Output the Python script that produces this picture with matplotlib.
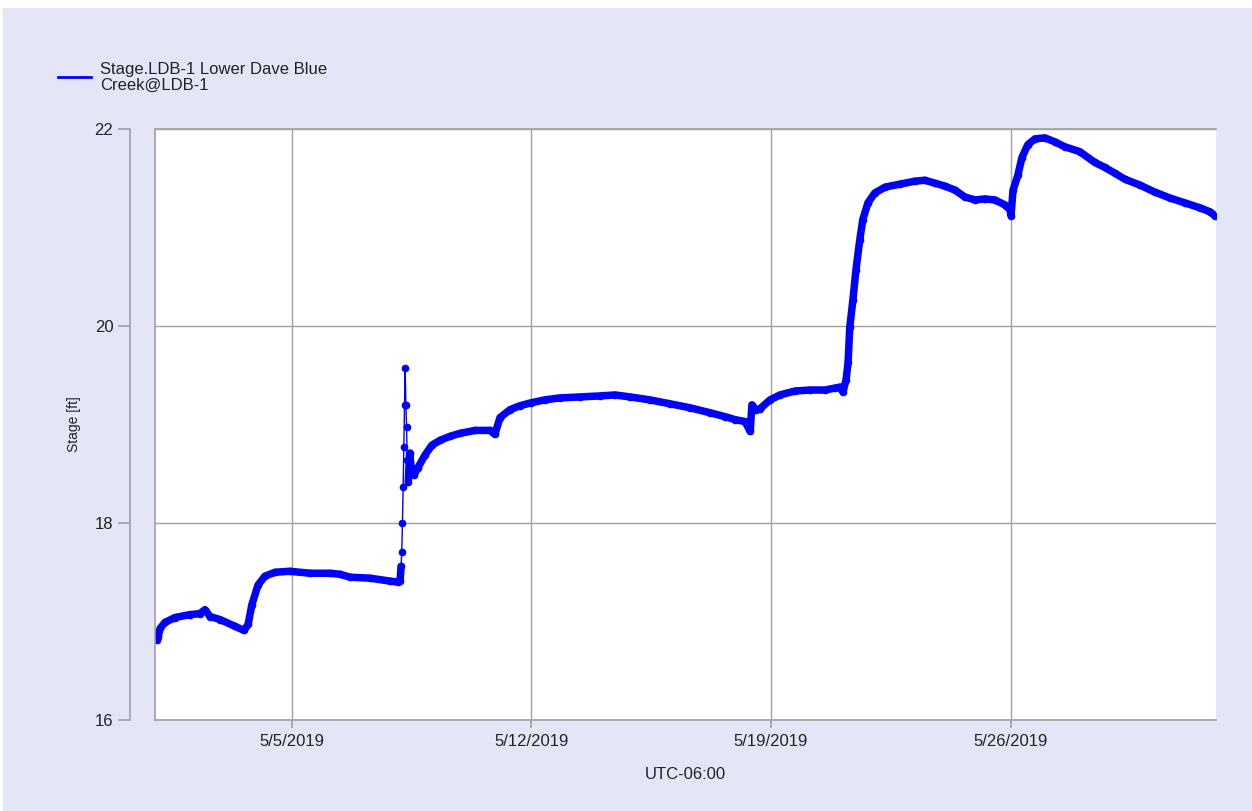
import matplotlib
matplotlib.use("Agg")
import matplotlib.pyplot as plt
import matplotlib.dates as mdates
from matplotlib.lines import Line2D
from matplotlib.patches import Rectangle
import numpy as np
import pandas as pd

# --- data (days after 2019-05-01 00:00, stage in ft) ---
start = "2019-05-01"
day_offset = [
    0.00, 0.05, 0.09, 0.15, 0.29, 0.58, 1.02, 1.31, 1.46, 1.61, 1.90, 2.34, 2.60, 2.72,
    2.83, 3.01, 3.21, 3.51, 3.94, 4.53, 5.11, 5.40, 5.70, 6.28, 6.87, 7.10, 7.16,
    7.19, 7.21, 7.23, 7.25, 7.27, 7.29, 7.31, 7.33, 7.35, 7.37, 7.40, 7.44, 7.50,
    7.57, 7.68, 7.89, 8.09, 8.33, 8.62, 8.91, 9.35, 9.79, 9.93, 10.08, 10.37, 10.66,
    10.98, 11.39, 11.83, 12.42, 13.00, 13.44, 13.88, 14.46, 15.05, 15.63, 16.21,
    16.65, 16.94, 17.24, 17.39, 17.44, 17.55, 17.68, 17.97, 18.26, 18.70, 19.14,
    19.57, 19.87, 20.01, 20.10, 20.19, 20.25, 20.30, 20.39, 20.48, 20.59, 20.68,
    20.83, 21.03, 21.33, 21.76, 22.20, 22.49, 22.79, 23.08, 23.37, 23.66, 23.96,
    24.25, 24.54, 24.83, 24.98, 25.01, 25.07, 25.21, 25.33, 25.50, 25.71, 26.00,
    26.29, 26.58, 27.02, 27.46, 27.75, 28.05, 28.34, 28.78, 29.21, 29.65, 30.09,
    30.53, 30.82, 30.97,
]
stage = [
    16.88, 16.81, 16.84, 16.93, 16.99, 17.04, 17.07, 17.08, 17.12, 17.05, 17.02,
    16.95, 16.91, 16.97, 17.17, 17.37, 17.46, 17.50, 17.51, 17.49, 17.49, 17.48,
    17.45, 17.44, 17.41, 17.40, 17.41,
    17.56, 17.71, 18.00, 18.37, 18.77, 19.20, 19.57, 19.20, 18.97, 18.64, 18.42,
    18.71, 18.52, 18.49, 18.56, 18.69, 18.79, 18.84, 18.88, 18.91, 18.94, 18.94,
    18.90, 19.07, 19.15, 19.19, 19.22, 19.25, 19.27, 19.28, 19.29, 19.30, 19.28,
    19.25, 19.21, 19.17, 19.12, 19.08, 19.05, 19.03, 18.93, 19.20, 19.15, 19.16,
    19.25, 19.30, 19.34, 19.35, 19.35, 19.37, 19.38, 19.33, 19.45, 19.63, 19.99,
    20.26, 20.57, 20.87, 21.08, 21.25, 21.35, 21.41, 21.44, 21.47, 21.48, 21.45,
    21.42, 21.38, 21.31, 21.28, 21.29, 21.28, 21.23, 21.18, 21.12, 21.38, 21.53,
    21.71, 21.84, 21.90, 21.91, 21.87, 21.82, 21.77, 21.66, 21.61, 21.55, 21.49,
    21.43, 21.36, 21.30, 21.25, 21.20, 21.16, 21.12,
]
y_ticks = [16, 18, 20, 22]
x_ticks = ["2019-05-05", "2019-05-12", "2019-05-19", "2019-05-26"]
series_label = "Stage.LDB-1 Lower Dave Blue\nCreek@LDB-1"

plt.rcParams["font.family"] = ["Liberation Sans", "DejaVu Sans"]

W, H = 1252, 811
bg = "#E4E6F8"
grey = "#a0a0a0"
blue = "#0000FF"
txt = "#222222"

t = pd.Timestamp(start) + pd.to_timedelta(day_offset, unit="D")
v = np.array(stage)

fig = plt.figure(figsize=(W / 100, H / 100), dpi=100)
fig.patch.set_facecolor("white")
fig.patches.append(Rectangle((3 / W, 0), 1, 1 - 8 / H, transform=fig.transFigure,
                             facecolor=bg, edgecolor="none", zorder=-10))

ax = fig.add_axes([155 / W, 1 - 720 / H, (1216 - 155) / W, (720 - 129) / H])
ax.set_facecolor("white")

# thin line + dots for everything, thick band where the trace is not steep
tnum = mdates.date2num(t)
slope = np.abs(np.diff(v)) / np.diff(tnum)
steep = np.zeros(len(v), bool)
steep[1:] |= slope > 8
steep[:-1] |= slope > 8
ax.plot(t, v, "-", color=blue, lw=1, marker="o", ms=4.5, mec=blue, mfc=blue, zorder=4)
ax.plot(t, np.ma.masked_where(steep, v), "-", color=blue, lw=5.4,
        solid_capstyle="round", solid_joinstyle="round", zorder=4)

ax.set_xlim(pd.Timestamp("2019-05-01"), pd.Timestamp("2019-06-01"))
ax.set_ylim(16, 22)
ax.set_yticks(y_ticks)
ax.set_xticks(pd.to_datetime(x_ticks))
ax.xaxis.set_major_formatter(plt.FuncFormatter(
    lambda x, p: "{d.month}/{d.day}/{d.year}".format(d=mdates.num2date(x))))

ax.grid(True, color=grey, lw=1.0)
ax.set_axisbelow(True)

for s in ["top", "bottom"]:
    ax.spines[s].set_color(grey)
    ax.spines[s].set_linewidth(1.2)
ax.spines["right"].set_visible(False)
ax.spines["left"].set_position(("outward", 18))
ax.spines["left"].set_color(grey)
ax.spines["left"].set_linewidth(1.2)
ax.plot([0, 0], [0, 1], transform=ax.transAxes, color=grey, lw=1.2, clip_on=False, zorder=5)

ax.tick_params(axis="y", length=9, width=1.2, color=grey, pad=3, labelsize=12, labelcolor=txt)
ax.tick_params(axis="x", length=6, width=1.2, color=grey, pad=4, labelsize=12, labelcolor=txt)

ax.set_xlabel("UTC-06:00", fontsize=12, color=txt, labelpad=13)
ax.set_ylabel("Stage [ft]", fontsize=10, color=txt, labelpad=10)

handle = Line2D([], [], color=blue, lw=2)
leg = fig.legend([handle], [series_label], loc="upper left",
                 bbox_to_anchor=(58 / W, 1 - 62 / H), frameon=False, fontsize=12,
                 borderpad=0, borderaxespad=0, handlelength=2.0, handletextpad=0.55,
                 labelspacing=0)
for tx in leg.get_texts():
    tx.set_linespacing(1.05)
    tx.set_color(txt)

fig.savefig("out.png", dpi=100, facecolor=fig.get_facecolor())
